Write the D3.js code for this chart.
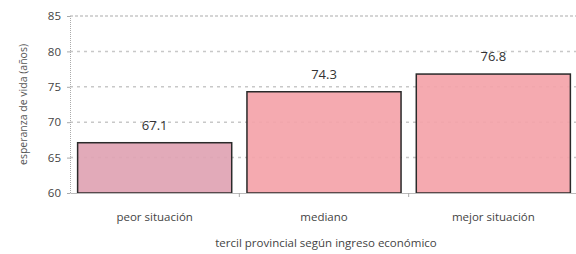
<!DOCTYPE html>
<html>
<head>
<meta charset="utf-8">
<script src="https://cdn.jsdelivr.net/npm/d3@7"></script>
<style>
  body { margin: 0; background: #fff; }
  text { font-family: "Open Sans", sans-serif; }
</style>
</head>
<body>
<svg id="chart" width="576" height="254"></svg>
<script>
const categories = ['peor situación', 'mediano', 'mejor situación'];
const values = [67.1, 74.3, 76.8];
const barColors = ['#dfa3b3', '#f4a3a9', '#f4a3a9'];
const yTicks = [60, 65, 70, 75, 80, 85];

const svg = d3.select('#chart');
const margin = {left: 70, right: 0, top: 16, bottom: 61};
const width = 576, height = 254;

const x = d3.scaleBand()
  .domain(categories)
  .range([margin.left, 578])
  .paddingInner(0.09)
  .paddingOuter(0.045);

const y = d3.scaleLinear()
  .domain([60, 85])
  .range([height - margin.bottom, margin.top]);

// gridlines
svg.append('g')
  .selectAll('line')
  .data(yTicks.filter(d => d > 60))
  .enter().append('line')
    .attr('x1', margin.left)
    .attr('x2', 576)
    .attr('y1', d => y(d))
    .attr('y2', d => y(d))
    .attr('stroke', '#c8c8c8')
    .attr('stroke-width', 1.5)
    .attr('stroke-dasharray', d => d === 85 ? '3,2' : '3,4');

// bars
svg.append('g')
  .selectAll('rect')
  .data(values)
  .enter().append('rect')
    .attr('x', (d, i) => x(categories[i]))
    .attr('y', d => y(d))
    .attr('width', x.bandwidth())
    .attr('height', d => y(60) - y(d))
    .attr('fill', (d, i) => barColors[i])
    .attr('fill-opacity', 0.92)
    .attr('stroke', '#2a2a2a')
    .attr('stroke-width', 1.5);

// value labels
svg.append('g')
  .selectAll('text')
  .data(values)
  .enter().append('text')
    .attr('x', (d, i) => x(categories[i]) + x.bandwidth() / 2)
    .attr('y', d => y(d) - 13)
    .attr('text-anchor', 'middle')
    .attr('font-size', 13)
    .attr('fill', '#333')
    .text(d => d.toFixed(1));

// y axis
const yAxis = svg.append('g')
  .attr('transform', `translate(${margin.left},0)`)
  .call(d3.axisLeft(y).tickValues(yTicks).tickSize(3).tickPadding(6));
yAxis.select('.domain').attr('stroke', '#aaa').attr('stroke-dasharray', '1,1');
yAxis.selectAll('.tick line').attr('stroke', '#aaa');
yAxis.selectAll('.tick text').attr('font-size', 11.5).attr('fill', '#444')
  .style('font-family', '"Open Sans", sans-serif');

// x axis
const xAxis = svg.append('g')
  .attr('transform', `translate(0,${y(60)})`)
  .call(d3.axisBottom(x).tickSize(0).tickPadding(20));
xAxis.select('.domain').attr('stroke', '#bbb');
xAxis.selectAll('.tick text').attr('font-size', 11.5).attr('fill', '#444')
  .style('font-family', '"Open Sans", sans-serif');

// small separators between categories
xAxis.selectAll('.sep')
  .data(categories.slice(1))
  .enter().append('line')
    .attr('x1', d => x(d) - x.step() * x.paddingInner() / 2)
    .attr('x2', d => x(d) - x.step() * x.paddingInner() / 2)
    .attr('y1', 0)
    .attr('y2', 4)
    .attr('stroke', '#aaa');

// axis titles
svg.append('text')
  .attr('transform', `translate(27,${(y(60) + y(85)) / 2}) rotate(-90)`)
  .attr('text-anchor', 'middle')
  .attr('font-size', 10.5)
  .attr('fill', '#555')
  .text('esperanza de vida (años)');

svg.append('text')
  .attr('x', 326)
  .attr('y', 247)
  .attr('text-anchor', 'middle')
  .attr('font-size', 11.5)
  .attr('fill', '#444')
  .text('tercil provincial según ingreso económico');
</script>
</body>
</html>
